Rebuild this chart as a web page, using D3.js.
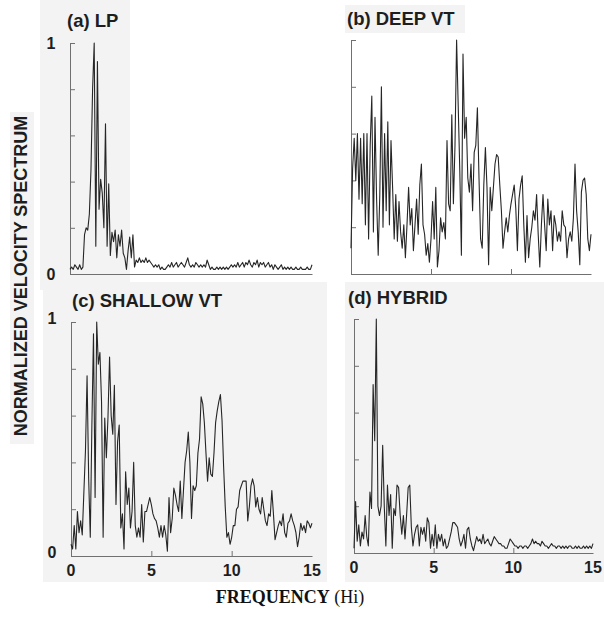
<!DOCTYPE html>
<html>
<head>
<meta charset="utf-8">
<script src="https://cdn.jsdelivr.net/npm/d3@7"></script>
<style>
    body { margin: 0; background: #ffffff; }
    svg { display: block; }
    .axis path, .axis line { stroke: #707070; stroke-width: 1; }
    .sans { font-family: "Liberation Sans", Arial, Helvetica, sans-serif; font-weight: bold; fill: #1e1e1e; }
</style>
</head>
<body>
<svg id="chart" width="604" height="642"></svg>
<script>
// spectra sampled every 0.1 Hz from 0 to 15 Hz, normalized to the peak
const freqStep = 0.1;

const lpSpectrum = [
    0.02, 0.03, 0.02, 0.04, 0.03, 0.02, 0.04, 0.02, 0.03, 0.17,
    0.20, 0.19, 0.26, 0.45, 0.80, 1.00, 0.12, 0.92, 0.28, 0.41,
    0.35, 0.20, 0.65, 0.12, 0.39, 0.08, 0.18, 0.14, 0.19, 0.07,
    0.17, 0.12, 0.19, 0.09, 0.07, 0.02, 0.10, 0.16, 0.07, 0.17,
    0.03, 0.06, 0.05, 0.07, 0.05, 0.06, 0.05, 0.07, 0.05, 0.06,
    0.05, 0.04, 0.03, 0.04, 0.03, 0.04, 0.02, 0.03, 0.02, 0.02,
    0.03, 0.04, 0.03, 0.05, 0.03, 0.04, 0.05, 0.03, 0.04, 0.05,
    0.04, 0.03, 0.05, 0.07, 0.04, 0.03, 0.04, 0.03, 0.05, 0.04,
    0.03, 0.04, 0.03, 0.04, 0.03, 0.06, 0.04, 0.02, 0.03, 0.02,
    0.02, 0.03, 0.02, 0.03, 0.02, 0.03, 0.02, 0.03, 0.02, 0.03,
    0.04, 0.03, 0.04, 0.03, 0.05, 0.03, 0.04, 0.05, 0.03, 0.05,
    0.04, 0.06, 0.04, 0.03, 0.05, 0.04, 0.06, 0.03, 0.05, 0.04,
    0.05, 0.03, 0.04, 0.05, 0.03, 0.04, 0.02, 0.04, 0.03, 0.02,
    0.03, 0.04, 0.02, 0.03, 0.02, 0.03, 0.02, 0.03, 0.02, 0.02,
    0.03, 0.02, 0.02, 0.03, 0.02, 0.02, 0.02, 0.03, 0.02, 0.02,
    0.04
];

const deepVtSpectrum = [
    0.11, 0.45, 0.58, 0.40, 0.60, 0.32, 0.58, 0.30, 0.60, 0.21,
    0.60, 0.15, 0.55, 0.76, 0.18, 0.67, 0.32, 0.08, 0.34, 0.80,
    0.20, 0.60, 0.27, 0.65, 0.21, 0.57, 0.37, 0.15, 0.34, 0.14,
    0.31, 0.18, 0.11, 0.21, 0.07, 0.21, 0.37, 0.21, 0.28, 0.10,
    0.21, 0.32, 0.17, 0.38, 0.47, 0.21, 0.17, 0.08, 0.13, 0.05,
    0.15, 0.31, 0.15, 0.37, 0.03, 0.10, 0.24, 0.18, 0.22, 0.15,
    0.57, 0.30, 0.27, 0.68, 0.30, 0.55, 1.00, 0.72, 0.44, 0.08,
    0.94, 0.58, 0.67, 0.41, 0.35, 0.47, 0.27, 0.52, 0.55, 0.71,
    0.41, 0.15, 0.11, 0.38, 0.54, 0.37, 0.04, 0.37, 0.27, 0.37,
    0.47, 0.51, 0.50, 0.38, 0.27, 0.11, 0.18, 0.24, 0.18, 0.25,
    0.30, 0.34, 0.38, 0.28, 0.10, 0.32, 0.38, 0.42, 0.21, 0.05,
    0.25, 0.07, 0.15, 0.20, 0.27, 0.23, 0.34, 0.17, 0.03, 0.21,
    0.34, 0.21, 0.10, 0.32, 0.21, 0.27, 0.10, 0.25, 0.21, 0.14,
    0.18, 0.14, 0.27, 0.21, 0.20, 0.07, 0.15, 0.18, 0.14, 0.24,
    0.47, 0.27, 0.18, 0.04, 0.35, 0.40, 0.41, 0.34, 0.15, 0.10,
    0.17
];

const shallowVtSpectrum = [
    0.05, 0.03, 0.13, 0.03, 0.19, 0.10, 0.15, 0.09, 0.27, 0.45,
    0.77, 0.33, 0.08, 0.56, 0.95, 0.25, 1.00, 0.82, 0.87, 0.66,
    0.08, 0.59, 0.42, 0.59, 0.85, 0.60, 0.52, 0.73, 0.22, 0.49,
    0.56, 0.12, 0.18, 0.03, 0.36, 0.22, 0.29, 0.12, 0.19, 0.40,
    0.13, 0.08, 0.12, 0.08, 0.22, 0.06, 0.19, 0.19, 0.22, 0.25,
    0.22, 0.18, 0.16, 0.15, 0.12, 0.08, 0.13, 0.08, 0.13, 0.09,
    0.02, 0.25, 0.10, 0.16, 0.29, 0.26, 0.22, 0.19, 0.32, 0.16,
    0.28, 0.40, 0.45, 0.53, 0.40, 0.16, 0.30, 0.28, 0.30, 0.44,
    0.50, 0.68, 0.65, 0.57, 0.44, 0.32, 0.42, 0.35, 0.34, 0.44,
    0.57, 0.62, 0.66, 0.69, 0.58, 0.38, 0.21, 0.08, 0.10, 0.05,
    0.08, 0.13, 0.13, 0.20, 0.21, 0.28, 0.30, 0.32, 0.32, 0.32,
    0.15, 0.21, 0.30, 0.33, 0.30, 0.21, 0.25, 0.20, 0.18, 0.25,
    0.20, 0.15, 0.13, 0.18, 0.17, 0.28, 0.18, 0.07, 0.10, 0.13,
    0.15, 0.13, 0.18, 0.10, 0.08, 0.14, 0.15, 0.18, 0.15, 0.13,
    0.10, 0.04, 0.08, 0.14, 0.11, 0.13, 0.10, 0.15, 0.14, 0.12,
    0.14
];

const hybridSpectrum = [
    0.02, 0.22, 0.05, 0.12, 0.03, 0.09, 0.06, 0.16, 0.07, 0.03,
    0.26, 0.19, 0.72, 0.48, 1.00, 0.20, 0.16, 0.20, 0.46, 0.20,
    0.03, 0.29, 0.16, 0.25, 0.02, 0.19, 0.16, 0.29, 0.28, 0.16,
    0.08, 0.16, 0.06, 0.16, 0.28, 0.29, 0.11, 0.03, 0.08, 0.11,
    0.12, 0.03, 0.11, 0.08, 0.11, 0.05, 0.15, 0.13, 0.02, 0.08,
    0.03, 0.12, 0.02, 0.08, 0.05, 0.08, 0.03, 0.06, 0.02, 0.03,
    0.06, 0.09, 0.13, 0.13, 0.12, 0.11, 0.06, 0.03, 0.05, 0.08,
    0.02, 0.10, 0.11, 0.06, 0.03, 0.01, 0.04, 0.07, 0.05, 0.06,
    0.04, 0.08, 0.04, 0.05, 0.06, 0.04, 0.03, 0.05, 0.07, 0.06,
    0.05, 0.04, 0.04, 0.03, 0.03, 0.02, 0.02, 0.04, 0.06, 0.05,
    0.04, 0.03, 0.03, 0.02, 0.03, 0.03, 0.02, 0.03, 0.03, 0.02,
    0.03, 0.04, 0.06, 0.04, 0.05, 0.04, 0.04, 0.03, 0.05, 0.04,
    0.03, 0.03, 0.02, 0.03, 0.04, 0.03, 0.03, 0.02, 0.03, 0.03,
    0.02, 0.03, 0.02, 0.03, 0.02, 0.03, 0.03, 0.02, 0.02, 0.03,
    0.02, 0.03, 0.02, 0.02, 0.03, 0.02, 0.03, 0.02, 0.03, 0.02,
    0.04
];

const panelTitles = ['(a) LP', '(b) DEEP VT', '(c) SHALLOW VT', '(d) HYBRID'];
const yTickValues = [0, 0.2, 0.4, 0.6, 0.8, 1];
const yTickLabels = [0, 1];
const xInnerTicks = [5, 10];
const xTickLabels = [0, 5, 10, 15];
const freqDomain = [0, 15];

let svg = d3.select('#chart');

//faint grey patches of the scanned page
let patches = [[40, 0, 90, 290], [345, 5, 120, 28], [10, 112, 24, 332], [43, 282, 284, 300], [345, 282, 259, 300]];
svg.selectAll('rect.patch')
    .data(patches)
    .enter()
    .append('rect')
    .attr('x', d => d[0])
    .attr('y', d => d[1])
    .attr('width', d => d[2])
    .attr('height', d => d[3])
    .attr('fill', '#f3f3f3');

//panel boxes, in pixels
let panels = [
    {title: panelTitles[0], values: lpSpectrum, left: 70, right: 312, top: 43, bottom: 274,
        titleX: 67, titleY: 27, yLabels: true, labelDy: 6, xTicks: false, xLabels: false},
    {title: panelTitles[1], values: deepVtSpectrum, left: 351, right: 591, top: 40, bottom: 274,
        titleX: 347, titleY: 25, yLabels: false, labelDy: 0, xTicks: true, xLabels: false},
    {title: panelTitles[2], values: shallowVtSpectrum, left: 71, right: 312, top: 322, bottom: 556,
        titleX: 72, titleY: 307, yLabels: true, labelDy: 2, xTicks: true, xLabels: true},
    {title: panelTitles[3], values: hybridSpectrum, left: 354, right: 593, top: 319, bottom: 553,
        titleX: 348, titleY: 304, yLabels: false, labelDy: 0, xTicks: true, xLabels: true}
];

panels.forEach(drawPanel);

function drawPanel(p) {
    let xScale = d3.scaleLinear().domain(freqDomain).range([p.left, p.right]);
    let yScale = d3.scaleLinear().domain([0, 1]).range([p.bottom, p.top]);
    let g = svg.append('g');

    //left axis, ticks pointing inside
    g.append('g')
        .attr('class', 'axis')
        .attr('transform', `translate(${p.left}, 0)`)
        .call(d3.axisRight(yScale).tickValues(yTickValues).tickSize(5).tickSizeOuter(0).tickFormat(''));

    //bottom axis
    g.append('g')
        .attr('class', 'axis')
        .attr('transform', `translate(0, ${p.bottom})`)
        .call(d3.axisTop(xScale).tickValues(p.xTicks ? xInnerTicks : []).tickSize(5).tickSizeOuter(0).tickFormat(''));

    //spectrum
    let line = d3.line()
        .x((d, i) => xScale(i * freqStep))
        .y(d => yScale(d));

    g.append('path')
        .datum(p.values)
        .attr('d', line)
        .attr('fill', 'none')
        .attr('stroke', '#262626')
        .attr('stroke-width', 1.1)
        .attr('stroke-linejoin', 'round');

    g.append('text')
        .attr('class', 'sans')
        .attr('x', p.titleX)
        .attr('y', p.titleY)
        .style('font-size', '18.5px')
        .text(p.title);

    if (p.yLabels) {
        g.selectAll('text.ylab')
            .data(yTickLabels)
            .enter()
            .append('text')
            .attr('class', 'sans ylab')
            .attr('x', p.left - 19)
            .attr('y', d => yScale(d) + p.labelDy)
            .attr('text-anchor', 'middle')
            .style('font-size', '16px')
            .text(d => d);
    }

    if (p.xLabels) {
        g.selectAll('text.xlab')
            .data(xTickLabels)
            .enter()
            .append('text')
            .attr('class', 'sans xlab')
            .attr('x', d => xScale(d))
            .attr('y', p.bottom + 20)
            .attr('text-anchor', 'middle')
            .style('font-size', '16px')
            .text(d => d);
    }
}

//axis titles
svg.append('text')
    .attr('class', 'sans')
    .attr('transform', 'translate(27, 276) rotate(-90)')
    .attr('text-anchor', 'middle')
    .style('font-size', '18px')
    .text('NORMALIZED VELOCITY SPECTRUM');

let xTitle = svg.append('text')
    .attr('x', 290)
    .attr('y', 603)
    .attr('text-anchor', 'middle')
    .style('font-family', '"Liberation Serif", "Times New Roman", serif')
    .style('font-size', '18px')
    .attr('fill', '#111');
xTitle.append('tspan').style('font-weight', 'bold').text('FREQUENCY');
xTitle.append('tspan').text(' (Hi)');
</script>
</body>
</html>
